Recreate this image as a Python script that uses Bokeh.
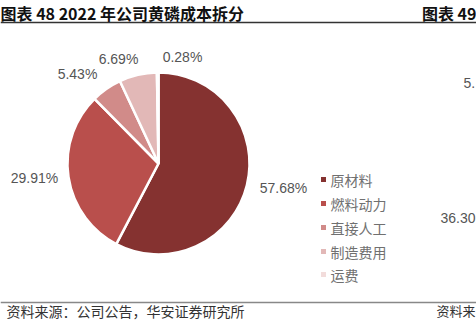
import numpy as np
from bokeh.plotting import figure
from bokeh.models import ColumnDataSource, Range1d
from bokeh.core.properties import value
from bokeh.embed import file_html
from bokeh.resources import INLINE

# ---- data ----
categories = ["原材料", "燃料动力", "直接人工", "制造费用", "运费"]
shares = [57.68, 29.91, 5.43, 6.69, 0.28]
share_labels = ["57.68%", "29.91%", "5.43%", "6.69%", "0.28%"]
colors = ["#853230", "#B94F4C", "#D18B89", "#E2B8B7", "#F2DCDB"]

title_text = "图表 48 2022 年公司黄磷成本拆分"
next_title = "图表 49"
source_text = "资料来源：公司公告，华安证券研究所"
next_source = "资料来"
next_labels = ["5.", "36.30"]

# ---- layout (pixel coords, y down) ----
W, H = 476, 328
def Y(py):
    return H - py

CJK = value("Noto Sans CJK SC")
LAT = value("Liberation Sans")

p = figure(width=W, height=H, x_range=Range1d(0, W), y_range=Range1d(0, H),
           output_backend="svg", toolbar_location=None, min_border=0)
p.axis.visible = False
p.grid.visible = False
p.outline_line_color = None
p.background_fill_color = "white"
p.border_fill_color = "white"

# pie
cx, cy, r = 158, Y(163), 91
frac = np.array(shares) / sum(shares)
cum = np.concatenate([[0.0], np.cumsum(frac)])
start = np.pi / 2 - cum[:-1] * 2 * np.pi
end = np.pi / 2 - cum[1:] * 2 * np.pi
src = ColumnDataSource(dict(start=start, end=end, color=colors))
p.wedge(x=cx, y=cy, radius=r, start_angle="start", end_angle="end",
        direction="clock", fill_color="color", line_color="white",
        line_width=2.5, source=src)

# data labels
lab_pos = [(283, 187), (34, 177), (77, 73), (118, 58), (182, 56)]
lsrc = ColumnDataSource(dict(x=[q[0] for q in lab_pos], y=[Y(q[1]) for q in lab_pos],
                             t=share_labels))
p.text(x="x", y="y", text="t", source=lsrc, text_font=LAT, text_font_size="14px",
       text_color="#555555", text_align="center", text_baseline="middle")

# legend (custom)
leg_y = [179, 203, 227, 251, 274]
gsrc = ColumnDataSource(dict(x=[323] * 5, y=[Y(v) for v in leg_y], c=colors,
                             tx=[330] * 5, t=categories))
p.scatter(x="x", y="y", marker="square", size=5, fill_color="c", line_color=None, source=gsrc)
p.text(x="tx", y="y", text="t", source=gsrc, text_font=CJK, text_font_size="14px",
       text_color="#707070", text_align="left", text_baseline="middle")

# title & rules
p.text(x=[0], y=[Y(12)], text=[title_text], text_font=CJK, text_font_size="16px",
       text_font_style="bold", text_color="#111111", text_baseline="middle")
p.text(x=[W], y=[Y(12)], text=[next_title], text_font=CJK, text_font_size="16px",
       text_font_style="bold", text_color="#111111", text_align="right", text_baseline="middle")
p.segment(x0=[0], y0=[Y(22)], x1=[W], y1=[Y(22)], line_color="#333333", line_width=1.5)
p.segment(x0=[0], y0=[Y(302)], x1=[W], y1=[Y(302)], line_color="#888888", line_width=1.5)

p.text(x=[6], y=[Y(310)], text=[source_text], text_font=CJK, text_font_size="14px",
       text_color="#333333", text_baseline="middle")
p.text(x=[W - 1], y=[Y(310)], text=[next_source], text_font=CJK, text_font_size="13px",
       text_color="#333333", text_align="right", text_baseline="middle")

# cut-off labels of neighbouring chart
p.text(x=[463, 440], y=[Y(82), Y(217)], text=next_labels, text_font=LAT,
       text_font_size="14px", text_color="#555555", text_baseline="middle")

open("out.html", "w").write(file_html(p, INLINE))
